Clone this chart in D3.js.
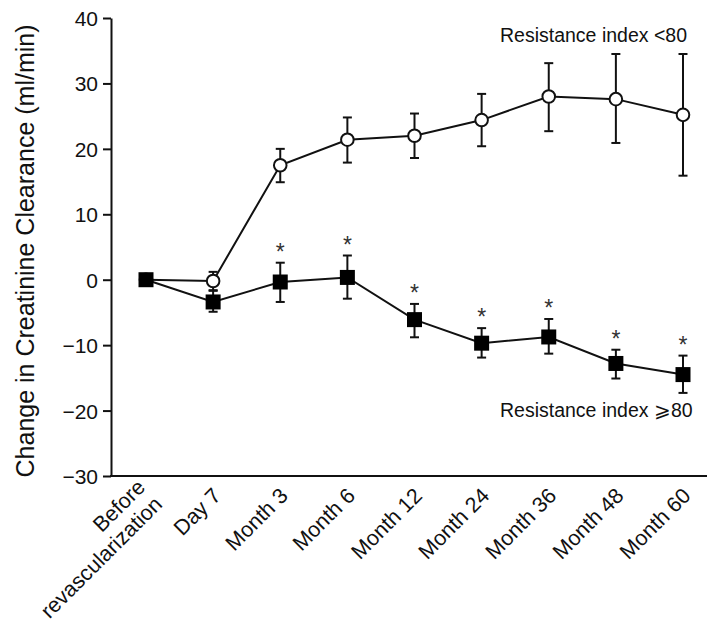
<!DOCTYPE html>
<html>
<head>
<meta charset="utf-8">
<script src="https://cdn.jsdelivr.net/npm/d3@7"></script>
<style>
    body { margin: 0; background: #ffffff; }
    text { font-family: "Liberation Sans", Arial, Helvetica, sans-serif; fill: #111111; }
</style>
</head>
<body>
<div class="graphContainer"></div>
<script>
// 横轴分类（\n 表示换行）
const categories = ['Before\nrevascularization', 'Day 7', 'Month 3', 'Month 6', 'Month 12',
    'Month 24', 'Month 36', 'Month 48', 'Month 60'];

// Resistance index <80：均值与误差上下界
const lowMean = [0, -0.2, 17.5, 21.4, 22.0, 24.4, 28.0, 27.6, 25.2];
const lowUpper = [null, 1.2, 20.0, 24.8, 25.4, 28.4, 33.1, 34.5, 34.5];
const lowLower = [null, -1.6, 14.9, 17.9, 18.6, 20.4, 22.7, 20.9, 15.9];

// Resistance index ≥80：均值与误差上下界
const highMean = [0, -3.4, -0.35, 0.35, -6.1, -9.7, -8.75, -12.8, -14.5];
const highUpper = [null, -1.7, 2.6, 3.7, -3.7, -7.4, -6.0, -10.7, -11.6];
const highLower = [null, -4.9, -3.4, -2.9, -8.8, -11.9, -11.3, -15.1, -17.3];

// 显著性标记（*）
const significant = [false, false, true, true, true, true, true, true, true];

// 纵轴刻度
const yTicks = [-30, -20, -10, 0, 10, 20, 30, 40];

// 图例文字
const legendLabels = ['Resistance index <80', 'Resistance index \u2A7E80'];

const renderParams = {
    width: 707,
    height: 630,
    axisX: 111,
    axisTop: 18,
    axisBottom: 476
};

/**
 * 绘制图表
 */
const renderChart = (params) => {
    let {width, height, axisX, axisTop, axisBottom} = params;

    let svg = d3.select('.graphContainer')
        .append('svg')
        .attr('width', width)
        .attr('height', height);

    // 比例尺
    let x = d3.scalePoint()
        .domain(categories)
        .range([146, 683]);
    let y = d3.scaleLinear()
        .domain([-30, 40])
        .range([axisBottom, axisTop]);

    // 纵轴
    let yAxis = svg.append('g')
        .attr('transform', `translate(${axisX},0)`)
        .call(d3.axisLeft(y).tickValues(yTicks).tickSize(8).tickPadding(5).tickSizeOuter(0));
    yAxis.select('.domain').attr('stroke', '#111').attr('stroke-width', 2);
    yAxis.selectAll('.tick line').attr('stroke', '#111').attr('stroke-width', 2);
    yAxis.selectAll('.tick text')
        .attr('fill', '#111')
        .attr('dy', '0.36em')
        .style('font-size', '21px')
        .style('font-family', '"Liberation Sans", Arial, sans-serif');

    // 横轴（只有轴线）
    svg.append('line')
        .attr('x1', axisX - 1)
        .attr('x2', width)
        .attr('y1', y(-30))
        .attr('y2', y(-30))
        .attr('stroke', '#111')
        .attr('stroke-width', 2);

    // 横轴标签，旋转 -45 度
    let xLabels = svg.append('g')
        .selectAll('text')
        .data(categories)
        .enter()
        .append('text')
        .attr('transform', d => `translate(${x(d) + 9},${y(-30) + 21}) rotate(-45)`)
        .attr('text-anchor', 'end')
        .style('font-size', '21.5px');
    xLabels.each(function (d) {
        let lines = d.split('\n');
        let t = d3.select(this);
        lines.forEach((line, i) => {
            t.append('tspan')
                .attr('x', 0)
                .attr('dy', i === 0 ? `${-(lines.length - 1) * 0.56}em` : '1.12em')
                .text(line);
        });
    });

    // 纵轴标题
    svg.append('text')
        .attr('transform', `translate(34,${(axisTop + axisBottom) / 2 + 4}) rotate(-90)`)
        .attr('text-anchor', 'middle')
        .style('font-size', '25px')
        .text('Change in Creatinine Clearance (ml/min)');

    let line = d3.line()
        .x((d, i) => x(categories[i]))
        .y(d => y(d));

    /**
     * 绘制误差线
     */
    const renderErrorBars = (upper, lower) => {
        let g = svg.append('g').attr('stroke', '#111').attr('stroke-width', 2);
        categories.forEach((c, i) => {
            if (upper[i] == null) return;
            let cx = x(c);
            g.append('line').attr('x1', cx).attr('x2', cx).attr('y1', y(upper[i])).attr('y2', y(lower[i]));
            g.append('line').attr('x1', cx - 4.5).attr('x2', cx + 4.5).attr('y1', y(upper[i])).attr('y2', y(upper[i]));
            g.append('line').attr('x1', cx - 4.5).attr('x2', cx + 4.5).attr('y1', y(lower[i])).attr('y2', y(lower[i]));
        });
    };

    // 系列一：空心圆
    renderErrorBars(lowUpper, lowLower);
    svg.append('path')
        .datum(lowMean)
        .attr('d', line)
        .attr('fill', 'none')
        .attr('stroke', '#111')
        .attr('stroke-width', 2);
    svg.append('g')
        .selectAll('circle')
        .data(lowMean)
        .enter()
        .append('circle')
        .attr('cx', (d, i) => x(categories[i]))
        .attr('cy', d => y(d))
        .attr('r', 6.3)
        .attr('fill', '#ffffff')
        .attr('stroke', '#111')
        .attr('stroke-width', 2);

    // 系列二：实心方块
    renderErrorBars(highUpper, highLower);
    svg.append('path')
        .datum(highMean)
        .attr('d', line)
        .attr('fill', 'none')
        .attr('stroke', '#111')
        .attr('stroke-width', 2);
    svg.append('g')
        .selectAll('rect')
        .data(highMean)
        .enter()
        .append('rect')
        .attr('x', (d, i) => x(categories[i]) - 7.5)
        .attr('y', d => y(d) - 7.5)
        .attr('width', 15)
        .attr('height', 15)
        .attr('fill', '#000000');

    // 显著性星号
    svg.append('g')
        .selectAll('text')
        .data(categories.filter((c, i) => significant[i]))
        .enter()
        .append('text')
        .attr('x', c => x(c))
        .attr('y', c => y(highUpper[categories.indexOf(c)]) - 3)
        .attr('text-anchor', 'middle')
        .style('font-size', '23px')
        .style('fill', '#333')
        .text('*');

    // 图例文字
    svg.append('text')
        .attr('x', 500)
        .attr('y', 42)
        .style('font-size', '19.5px')
        .text(legendLabels[0]);
    svg.append('text')
        .attr('x', 500)
        .attr('y', 417)
        .style('font-size', '19.5px')
        .text(legendLabels[1]);
};

renderChart(renderParams);
</script>
</body>
</html>
